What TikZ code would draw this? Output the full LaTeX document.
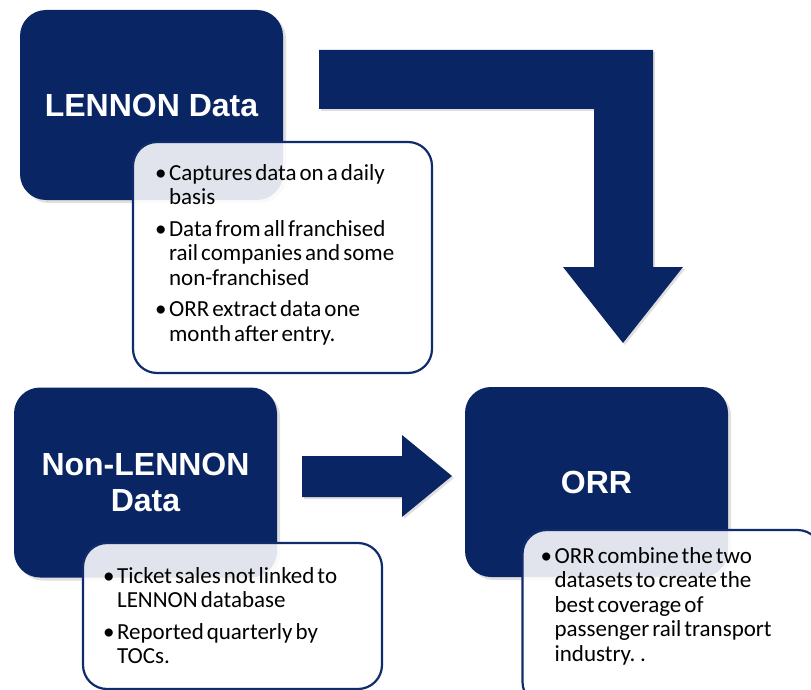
\documentclass[tikz,border=0pt]{standalone}
\usepackage{fontspec}
\setmainfont{Carlito}
\newfontfamily\headfont{Liberation Sans}
\usetikzlibrary{shadows}

\definecolor{orrblue}{HTML}{0A2564}
\definecolor{lineblue}{HTML}{112C6C}
\newcommand{\itm}{\makebox[14pt][l]{\textbullet}}
\newcommand{\cnt}{\hspace*{14pt}}
\newcommand{\apretado}{\spaceskip=0.13em plus 0.05em\relax}

\begin{document}
\begin{tikzpicture}[x=1pt,y=-1pt,
    bloque/.style={fill=orrblue, rounded corners=26pt, minimum width=263pt,
      minimum height=190pt, inner sep=0pt, text=white, align=center,
      font=\headfont\bfseries\fontsize{32}{36}\selectfont,
      drop shadow={opacity=0.25, shadow xshift=3pt, shadow yshift=-3pt}},
    nota/.style={draw=lineblue, line width=2.2pt, fill=white, fill opacity=0.88,
      rounded corners=24pt, inner sep=0pt, minimum width=299pt},
    vinetas/.style={anchor=north west, align=left, inner sep=0pt,
      font=\fontsize{23}{24.5}\selectfont\apretado},
    flecha/.style={fill=orrblue,
      drop shadow={opacity=0.25, shadow xshift=2pt, shadow yshift=-2pt}}]

    % Marco
    \clip (0,0) rectangle (811,690);

    % Dibuja los bloques
    \node[bloque] (lennon) at (151.5,105) {LENNON Data};
    \node[bloque] (nolennon) at (145.5,482.5) {Non-LENNON\\Data};
    \node[bloque] (orr) at (596.5,482) {ORR};

    % Dibuja las flechas
    \fill[flecha] (319,50) -- (653,50) -- (653,267) -- (683,267) -- (623,343)
        -- (563,267) -- (594,267) -- (594,109) -- (319,109) -- cycle;
    \fill[flecha] (302,456) -- (402,456) -- (402,435) -- (452,476) -- (402,517)
        -- (402,497) -- (302,497) -- cycle;

    % Dibuja las notas
    \node[nota, minimum height=231pt] (notaA) at (282.5,257.5) {};
    \node[nota, minimum height=146pt] (notaB) at (232.5,616) {};
    \node[nota, minimum height=176pt] (notaC) at (672,618) {};

    % Textos de las notas
    \node[vinetas] (txtA) at ([xshift=23pt,yshift=-23pt]notaA.north west)
        {\itm Captures data on a daily\\ \cnt basis\\[7pt]
         \itm Data from all franchised\\ \cnt rail companies and some\\ \cnt non-franchised\\[7pt]
         \itm ORR extract data one\\ \cnt month after entry.};
    \node[vinetas] (txtB) at ([xshift=21pt,yshift=-25pt]notaB.north west)
        {\itm Ticket sales not linked to\\ \cnt LENNON database\\[7pt]
         \itm Reported quarterly by\\ \cnt TOCs.};
    \node[vinetas] (txtC) at ([xshift=19pt,yshift=-18pt]notaC.north west)
        {\itm ORR combine the two\\ \cnt datasets to create the\\ \cnt best coverage of\\
         \cnt passenger rail transport\\ \cnt industry. .};
\end{tikzpicture}
\end{document}
